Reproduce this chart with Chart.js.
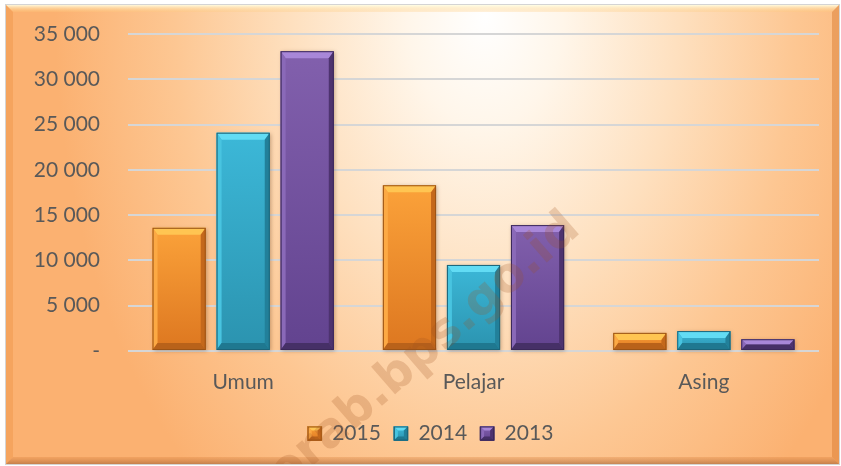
<!DOCTYPE html>
<html>
<head>
    <meta http-equiv="Content-Type" content="text/html; charset=utf-8">
    <title>Umum / Pelajar / Asing</title>
    <script src="https://cdn.jsdelivr.net/npm/chart.js@4.4.0/dist/chart.umd.min.js"></script>
    <style>
        html, body { margin: 0; padding: 0; background: #fff; }
        #wrap { position: relative; width: 841px; height: 466px; }
    </style>
</head>
<body>
<div id="wrap">
    <canvas id="myChart"></canvas>
</div>

<script>
    // data
    var categories = ['Umum', 'Pelajar', 'Asing'];
    var years = ['2015', '2014', '2013'];
    var v2015 = [13600, 18300, 2000];
    var v2014 = [24100, 9500, 2200];
    var v2013 = [33100, 13900, 1300];
    var yTicks = [0, 5000, 10000, 15000, 20000, 25000, 30000, 35000];

    // colours for each series
    var shades = [
        { base: '#f5922d', hi: '#fba23a', lo: '#dd7720', top: '#ffc552', left: '#fca944', right: '#c4681b', bottom: '#b9621a', line: '#9c5416' },
        { base: '#37aece', hi: '#3cb8d8', lo: '#2b93af', top: '#62dcf4', left: '#48c4e0', right: '#22809a', bottom: '#1f7890', line: '#1b6479' },
        { base: '#7a57a5', hi: '#8260ad', lo: '#62438f', top: '#a887d8', left: '#8a69b8', right: '#4d336f', bottom: '#463067', line: '#3b2858' }
    ];

    function fmt(v) {
        if (v === 0) return '-';
        return String(v).replace(/\B(?=(\d{3})+(?!\d))/g, ' ');
    }

    function poly(ctx, pts, fill) {
        ctx.beginPath();
        ctx.moveTo(pts[0], pts[1]);
        for (var i = 2; i < pts.length; i += 2) ctx.lineTo(pts[i], pts[i + 1]);
        ctx.closePath();
        ctx.fillStyle = fill;
        ctx.fill();
    }

    function bevelBox(ctx, l, t, r, b, c, bt, bs, shadow) {
        var h = b - t;
        ctx.save();
        if (shadow) {
            ctx.shadowColor = 'rgba(90,50,20,0.35)';
            ctx.shadowBlur = 4;
            ctx.shadowOffsetX = 1;
            ctx.shadowOffsetY = 1;
        }
        var g = ctx.createLinearGradient(0, t, 0, b);
        g.addColorStop(0, c.hi);
        g.addColorStop(1, c.lo);
        ctx.fillStyle = g;
        ctx.fillRect(l, t, r - l, h);
        ctx.restore();

        ctx.save();
        poly(ctx, [l, t, r, t, r - bs, t + bt, l + bs, t + bt], c.top);
        poly(ctx, [l, t, l + bs, t + bt, l + bs, b - bt, l, b], c.left);
        poly(ctx, [r, t, r, b, r - bs, b - bt, r - bs, t + bt], c.right);
        poly(ctx, [l, b, l + bs, b - bt, r - bs, b - bt, r, b], c.bottom);
        ctx.strokeStyle = c.line;
        ctx.lineWidth = 1;
        ctx.strokeRect(l + 0.5, t + 0.5, r - l - 1, h - 1);
        ctx.restore();
    }

    // orange panel behind the chart
    var panelPlugin = {
        id: 'panel',
        afterLayout: function(chart) {
            // legend sits a little right of the canvas centre
            if (chart.legend) {
                chart.legend.left += 21;
                chart.legend.right += 21;
            }
        },
        beforeDraw: function(chart) {
            var ctx = chart.ctx;
            var L = 6, T = 5, R = 839, B = 464;
            ctx.save();
            ctx.fillStyle = '#ffffff';
            ctx.fillRect(0, 0, chart.width, chart.height);

            ctx.save();
            ctx.beginPath();
            ctx.rect(L, T, R - L, B - T);
            ctx.clip();
            ctx.translate(485, 15);
            ctx.scale(1, 1.45);
            var g = ctx.createRadialGradient(0, 0, 0, 0, 0, 430);
            g.addColorStop(0, '#ffffff');
            g.addColorStop(0.18, '#fff6ea');
            g.addColorStop(0.45, '#fee0bf');
            g.addColorStop(0.72, '#fdc793');
            g.addColorStop(1, '#fbb171');
            ctx.fillStyle = g;
            ctx.fillRect(-600, -50, 1300, 400);
            ctx.restore();

            // bevelled rim
            var e = 7;
            var gt = ctx.createLinearGradient(0, T, 0, T + e);
            gt.addColorStop(0, 'rgba(255,255,230,0.9)');
            gt.addColorStop(1, 'rgba(255,200,120,0.25)');
            poly(ctx, [L, T, R, T, R - e, T + e, L + e, T + e], gt);
            poly(ctx, [L, T, L + e, T + e, L + e, B - e, L, B], 'rgba(235,140,60,0.35)');
            poly(ctx, [R, T, R, B, R - e, B - e, R - e, T + e], 'rgba(215,120,45,0.45)');
            var gb = ctx.createLinearGradient(0, B - e, 0, B);
            gb.addColorStop(0, 'rgba(220,130,60,0.3)');
            gb.addColorStop(1, 'rgba(160,95,50,0.6)');
            poly(ctx, [L, B, L + e, B - e, R - e, B - e, R, B], gb);

            ctx.strokeStyle = '#d4d4d4';
            ctx.lineWidth = 1;
            ctx.strokeRect(L - 0.5, T - 0.5, R - L + 1, B - T + 1);
            ctx.restore();
        }
    };

    // bevelled bars drawn over the library's bars
    var bevelPlugin = {
        id: 'bevel',
        afterDatasetsDraw: function(chart) {
            var ctx = chart.ctx;
            chart.data.datasets.forEach(function(ds, i) {
                var meta = chart.getDatasetMeta(i);
                meta.data.forEach(function(bar) {
                    var p = bar.getProps(['x', 'y', 'base', 'width'], true);
                    var h = p.base - p.y;
                    bevelBox(ctx, p.x - p.width / 2, p.y, p.x + p.width / 2, p.base, shades[i],
                        Math.min(7, h / 2), Math.min(5, h / 2), true);
                });
            });
        }
    };

    // legend boxes and the faint site watermark
    var markPlugin = {
        id: 'mark',
        afterDraw: function(chart) {
            var ctx = chart.ctx;
            var lg = chart.legend;
            if (lg && lg.legendHitBoxes) {
                lg.legendHitBoxes.forEach(function(hb, i) {
                    var top = hb.top + (hb.height - 14) / 2;
                    bevelBox(ctx, hb.left, top, hb.left + 14, top + 14, shades[i], 4, 4, false);
                });
            }

            ctx.save();
            ctx.beginPath();
            ctx.rect(6, 5, 833, 459);
            ctx.clip();
            ctx.translate(285, 490);
            ctx.rotate(-41 * Math.PI / 180);
            ctx.font = 'bold 48px "DejaVu Sans"';
            ctx.fillStyle = 'rgba(160,80,30,0.22)';
            ctx.textBaseline = 'alphabetic';
            ctx.fillText('orab.bps.go.id', 0, 0);
            ctx.restore();
        }
    };

    var ctx = document.getElementById('myChart');

    var chartData = {
        type: 'bar',
        data: {
            labels: categories,
            datasets: [
                { label: years[0], data: v2015, backgroundColor: shades[0].base, borderColor: shades[0].line, borderWidth: 1 },
                { label: years[1], data: v2014, backgroundColor: shades[1].base, borderColor: shades[1].line, borderWidth: 1 },
                { label: years[2], data: v2013, backgroundColor: shades[2].base, borderColor: shades[2].line, borderWidth: 1 }
            ]
        },
        options: {
            responsive: true,
            maintainAspectRatio: false,
            animation: false,
            datasets: {
                bar: { categoryPercentage: 0.834, barPercentage: 0.83 }
            },
            layout: {
                padding: { left: 0, right: 22, top: 34, bottom: 12 }
            },
            plugins: {
                tooltip: { enabled: false },
                legend: {
                    position: 'bottom',
                    labels: {
                        boxWidth: 14,
                        boxHeight: 14,
                        padding: 13,
                        color: '#595959',
                        font: { family: 'Lato', size: 21 }
                    }
                }
            },
            scales: {
                x: {
                    grid: { display: false, drawTicks: false },
                    border: { display: false },
                    ticks: {
                        padding: 19,
                        color: '#595959',
                        font: { family: 'Lato', size: 21 }
                    },
                    afterFit: function(scale) { scale.height = 59; }
                },
                y: {
                    min: 0,
                    max: 35000,
                    afterBuildTicks: function(scale) {
                        scale.ticks = yTicks.map(function(v) { return { value: v }; });
                    },
                    grid: { color: '#d6d6d6', lineWidth: 2, drawTicks: false },
                    border: { display: false },
                    ticks: {
                        padding: 28,
                        color: '#595959',
                        font: { family: 'Lato', size: 21 },
                        callback: function(v) { return fmt(v); }
                    },
                    afterFit: function(scale) {
                        scale.width = 128;
                        scale.paddingTop = 8;
                        scale.paddingBottom = 8;
                    }
                }
            }
        },
        plugins: [panelPlugin, bevelPlugin, markPlugin]
    };

    var myChart = new Chart(ctx, chartData);
</script>
</body>
</html>
